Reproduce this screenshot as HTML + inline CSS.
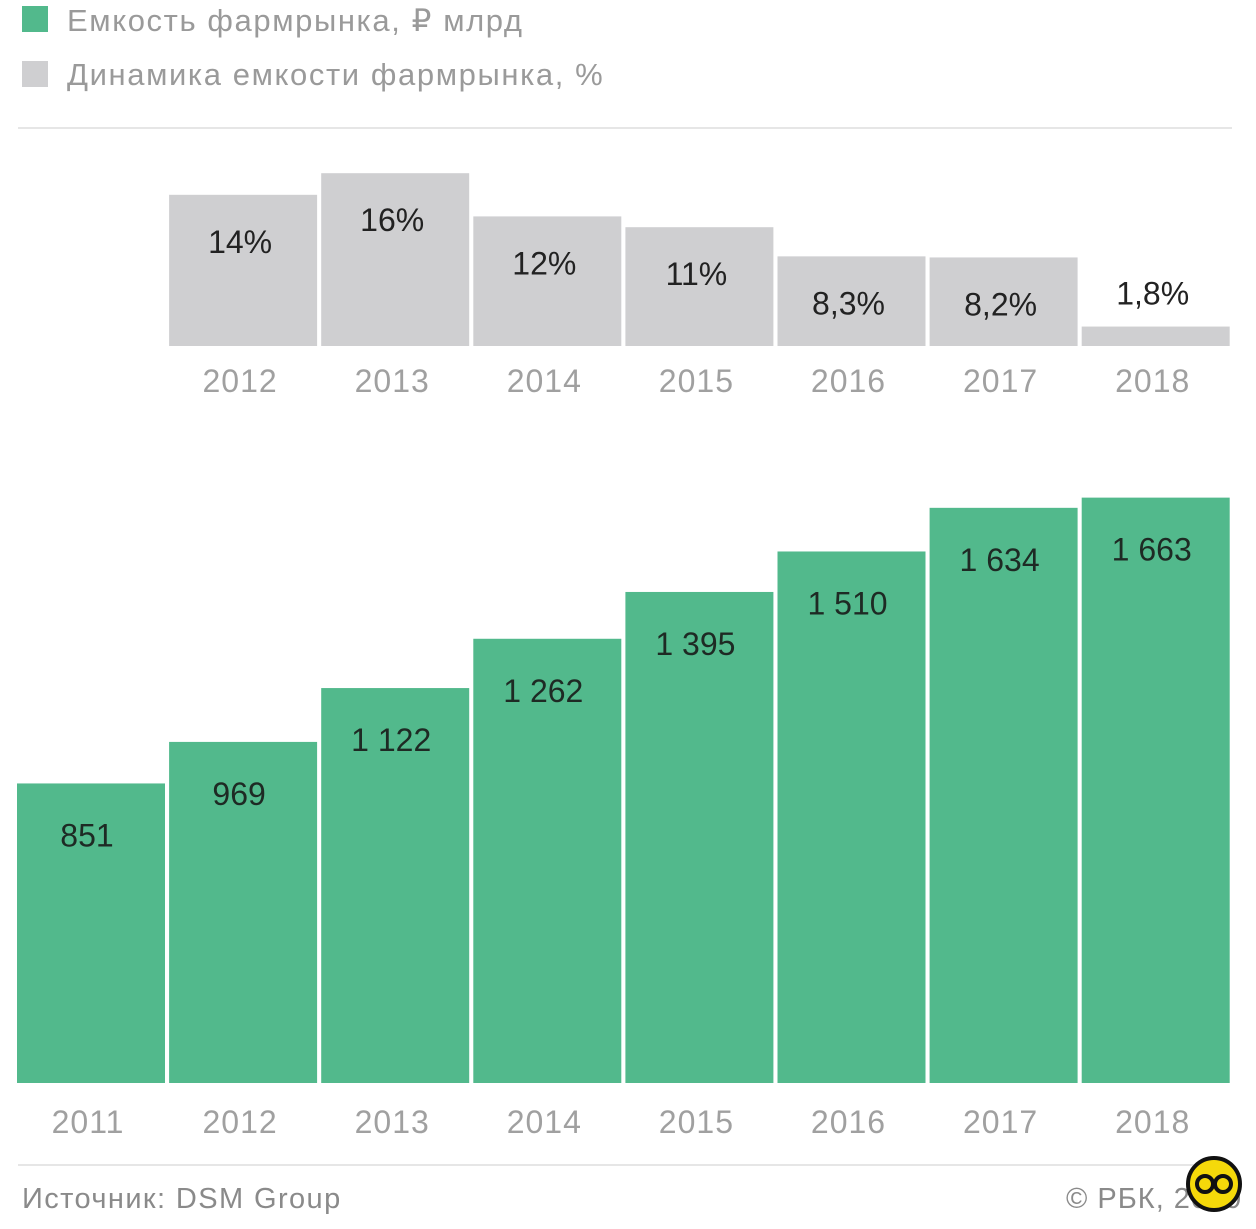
<!DOCTYPE html>
<html><head><meta charset="utf-8"><style>
body{margin:0;background:#fff;font-family:"Liberation Sans",sans-serif}
svg text{font-family:"Liberation Sans",sans-serif}
</style></head><body>
<svg id="c" width="1256" height="1224">
<rect x="22" y="6" width="26" height="26" fill="#52b98c"/>
<text x="67" y="31" font-size="31" letter-spacing="1.6" fill="#9a9a9a">Емкость фармрынка, ₽ млрд</text>
<rect x="22" y="61" width="26" height="26" fill="#cfcfd1"/>
<text x="67" y="85" font-size="31" letter-spacing="1.6" fill="#9a9a9a">Динамика емкости фармрынка, %</text>
<line x1="18" y1="128" x2="1232" y2="128" stroke="#e6e6e6" stroke-width="2"/>
<line x1="18" y1="1165" x2="1232" y2="1165" stroke="#e6e6e6" stroke-width="2"/>
<text x="22" y="1208" font-size="29" letter-spacing="1.4" fill="#8a8a8a">Источник: DSM Group</text>
<text x="1066" y="1208" font-size="29" letter-spacing="1" fill="#8a8a8a">© РБК, 2019</text>
<g><circle cx="1214" cy="1184" r="26" fill="#f5d90a" stroke="#111" stroke-width="4"/><circle cx="1205" cy="1184" r="8" fill="none" stroke="#111" stroke-width="4"/><circle cx="1223" cy="1184" r="8" fill="none" stroke="#111" stroke-width="4"/></g>
<g id="growth"></g><g id="cap"></g>
</svg>
<script>
const growthYears=["2012","2013","2014","2015","2016","2017","2018"];
const growthValues=[14,16,12,11,8.3,8.2,1.8];
const growthLabels=["14%","16%","12%","11%","8,3%","8,2%","1,8%"];
const capYears=["2011","2012","2013","2014","2015","2016","2017","2018"];
const capValues=[851,969,1122,1262,1395,1510,1634,1663];
const capLabels=["851","969","1 122","1 262","1 395","1 510","1 634","1 663"];
const NS="http://www.w3.org/2000/svg";
function mk(t,a,p){const e=document.createElementNS(NS,t);for(const k in a)e.setAttribute(k,a[k]);p.appendChild(e);return e;}
const X0=17,STEP=152.1,BW=148;
const xBand=i=>X0+i*STEP;
const yG=v=>346-v*10.8;
const yC=v=>1083-v*0.352;
const g=document.getElementById('growth'),c=document.getElementById('cap');
growthValues.forEach((v,k)=>{const i=k+1,x=xBand(i),y=yG(v);
 const r=mk('rect',{x:x,y:y,width:BW,height:346-y,fill:'#cfcfd1'},g);
 
 
 const ly=(346-y)<60?y-22:y+58;
 const t=mk('text',{x:x+BW/2-3,y:ly,'font-size':32,fill:'#222','text-anchor':'middle'},g);t.textContent=growthLabels[k];
 
 
 const yl=mk('text',{x:x+BW/2-3,y:392,'font-size':32,'letter-spacing':1,fill:'#a0a0a0','text-anchor':'middle'},g);yl.textContent=growthYears[k];
 
 
});
capValues.forEach((v,i)=>{const x=xBand(i),y=yC(v);
 const r=mk('rect',{x:x,y:y,width:BW,height:1083-y,fill:'#52b98c'},c);
 
 
 const t=mk('text',{x:x+BW/2-4,y:y+63,'font-size':32,fill:'#1e2a24','text-anchor':'middle'},c);t.textContent=capLabels[i];
 
 
 const yl=mk('text',{x:x+BW/2-3,y:1133,'font-size':32,'letter-spacing':1,fill:'#a0a0a0','text-anchor':'middle'},c);yl.textContent=capYears[i];
 
 
});
</script>
</body></html>
